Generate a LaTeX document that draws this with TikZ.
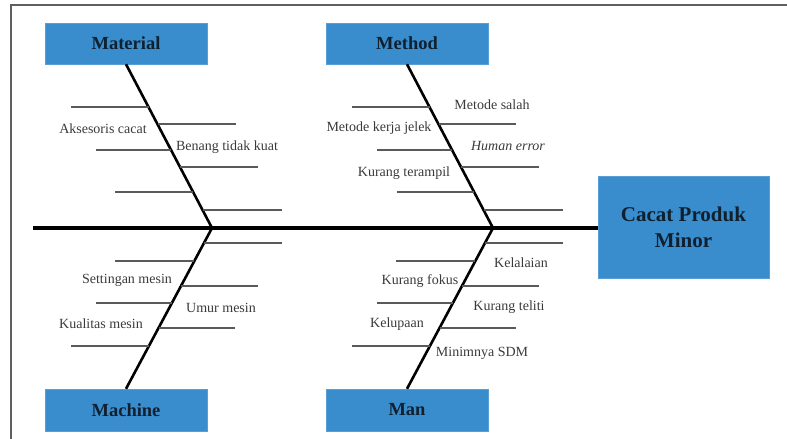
\documentclass[tikz,border=0pt]{standalone}
\usepackage{fontspec}
\setmainfont{Liberation Serif}
\definecolor{boxblue}{HTML}{3A8DCC}
\definecolor{titlecol}{HTML}{10202F}
\definecolor{ribgray}{HTML}{5A5A5A}
\definecolor{lblcol}{HTML}{3A3A3A}
\definecolor{framegray}{HTML}{606060}
\begin{document}
\begin{tikzpicture}[x=1pt,y=-1pt,
  catbox/.style={draw=boxblue!85!white, fill=boxblue, minimum width=162pt, minimum height=41pt, inner sep=0pt,
    font=\fontsize{18.5}{22}\selectfont\bfseries, text=titlecol},
  lbl/.style={font=\fontsize{14}{16}\selectfont, text=lblcol, inner sep=0pt},
  rib/.style={draw=ribgray, line width=1.3pt},
  bone/.style={draw=black, line width=2.6pt},
  spine/.style={draw=black, line width=4.2pt}]
\useasboundingbox (0,0) rectangle (787,439);
% frame
\draw[framegray, line width=1.2pt] (11,439) -- (11,5) -- (787,5);
% category boxes
\node[catbox] (mat) at (126,43.5) {Material};
\node[catbox] (meth) at (407,43.5) {Method};
\node[catbox, minimum height=42pt] (mach) at (126,410) {Machine};
\node[catbox, minimum height=42pt] (man) at (407,410) {Man};
\node[catbox, minimum width=171pt, minimum height=102pt, align=center,
  font=\fontsize{21}{26}\selectfont\bfseries] (eff) at (683.5,227) {Cacat Produk\\Minor};
% spine
\coordinate (tail) at (33,228);
\coordinate (jA) at (212,228);
\coordinate (jB) at (493,228);
\draw[spine] (tail) -- (tail -| eff.west);
% bones
\draw[bone] (mat.south) -- (jA) -- (mach.north);
\draw[bone] (meth.south) -- (jB) -- (man.north);
% Material ribs
\draw[rib] (71,107) -- (148.5,107);
\draw[rib] (157.5,124) -- (236,124);
\draw[rib] (96,150) -- (171,150);
\draw[rib] (180,167) -- (258,167);
\draw[rib] (115,192) -- (193,192);
\draw[rib] (202.6,210) -- (282,210);
% Method ribs
\draw[rib] (352,107) -- (429.5,107);
\draw[rib] (438.5,124) -- (516,124);
\draw[rib] (377,150) -- (452,150);
\draw[rib] (461,167) -- (539,167);
\draw[rib] (397,192) -- (474,192);
\draw[rib] (483.6,210) -- (563,210);
% Machine ribs
\draw[rib] (204,243) -- (282,243);
\draw[rib] (115,261) -- (194.4,261);
\draw[rib] (181,286) -- (258,286);
\draw[rib] (96,303) -- (172,303);
\draw[rib] (158.6,328) -- (235,328);
\draw[rib] (71,346) -- (149,346);
% Man ribs
\draw[rib] (485,243) -- (563,243);
\draw[rib] (396,261) -- (475.4,261);
\draw[rib] (462,286) -- (539,286);
\draw[rib] (377,303) -- (453,303);
\draw[rib] (439.6,328) -- (516,328);
\draw[rib] (352,346) -- (430,346);
% labels
\node[lbl] (l1) at (103,129) {Aksesoris cacat};
\node[lbl] (l2) at (227,147) {Benang tidak kuat};
\node[lbl] (l3) at (492,105) {Metode salah};
\node[lbl] (l4) at (379,128) {Metode kerja jelek};
\node[lbl] (l5) at (508,146) {\itshape Human error};
\node[lbl] (l6) at (404,173) {Kurang terampil};
\node[lbl] (l7) at (127,280) {Settingan mesin};
\node[lbl] (l8) at (221,308) {Umur mesin};
\node[lbl] (l9) at (101,324) {Kualitas mesin};
\node[lbl] (l10) at (521,263) {Kelalaian};
\node[lbl] (l11) at (420,281) {Kurang fokus};
\node[lbl] (l12) at (509,307) {Kurang teliti};
\node[lbl] (l13) at (397,324) {Kelupaan};
\node[lbl] (l14) at (482,353) {Minimnya SDM};
\end{tikzpicture}
\end{document}
